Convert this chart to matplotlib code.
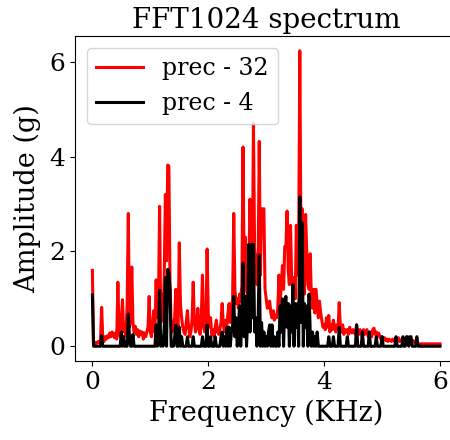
import numpy as np
import matplotlib
matplotlib.use("Agg")
import matplotlib.pyplot as plt

# frequency bins (KHz), step 0.02
freq_step = 0.02
n_bins = 301

amp_prec32 = [
    1.60, 0.05, 0.05, 0.08, 0.06, 0.10, 0.08, 0.12, 0.82, 0.15,
    0.10, 0.20, 0.15, 0.22, 0.18, 0.28, 0.20, 0.30, 0.25, 0.18,
    0.28, 0.15, 1.35, 0.35, 0.20, 0.55, 0.98, 0.30, 0.45, 0.22,
    0.90, 2.80, 0.40, 0.55, 1.67, 0.50, 0.30, 0.42, 0.25, 0.35,
    0.20, 0.32, 0.25, 0.30, 0.15, 0.28, 0.20, 0.30, 0.40, 1.05,
    0.30, 0.20, 0.45, 0.75, 0.30, 1.40, 0.60, 0.80, 2.95, 0.50,
    1.10, 0.55, 1.50, 3.20, 1.80, 3.82, 3.80, 1.35, 0.40, 0.30,
    0.45, 0.60, 1.20, 0.50, 0.40, 2.18, 0.90, 0.60, 0.40, 0.30,
    0.25, 0.50, 0.75, 0.40, 0.20, 0.30, 0.55, 1.35, 0.50, 0.30,
    0.45, 0.80, 0.35, 0.25, 0.60, 1.50, 0.40, 0.30, 0.50, 2.05,
    0.70, 0.40, 0.60, 0.25, 0.35, 0.20, 0.40, 0.55, 0.30, 0.25,
    0.35, 0.50, 0.90, 0.45, 0.30, 0.55, 0.40, 0.70, 0.90, 0.50,
    0.80, 1.00, 2.80, 1.20, 0.90, 1.00, 0.80, 1.10, 0.95, 1.30,
    4.20, 1.50, 2.30, 1.20, 1.00, 1.60, 3.10, 2.00, 1.40, 4.70,
    2.00, 1.90, 1.30, 1.60, 4.32, 1.50, 2.90, 2.88, 2.90, 1.20,
    1.00, 0.80, 0.90, 0.95, 0.70, 0.60, 0.75, 0.55, 0.65, 0.60,
    0.80, 1.50, 0.90, 1.30, 1.70, 1.20, 2.10, 2.10, 2.85, 1.60,
    1.30, 2.55, 1.40, 1.20, 1.45, 1.00, 2.55, 1.50, 2.00, 6.23,
    2.10, 2.90, 1.40, 1.10, 2.78, 2.00, 1.30, 1.20, 1.95, 1.00,
    0.80, 1.20, 0.70, 1.20, 0.90, 0.60, 0.95, 0.70, 0.55, 0.40,
    0.45, 0.35, 0.60, 0.40, 0.65, 0.30, 0.45, 0.35, 0.55, 0.40,
    0.30, 0.45, 0.35, 0.92, 0.40, 0.30, 0.45, 0.25, 0.35, 0.30,
    0.35, 0.25, 0.40, 0.30, 0.28, 0.35, 0.30, 0.25, 0.45, 0.30,
    0.25, 0.35, 0.28, 0.20, 0.35, 0.25, 0.30, 0.35, 0.20, 0.28,
    0.30, 0.20, 0.35, 0.38, 0.25, 0.30, 0.20, 0.28, 0.22, 0.15,
    0.20, 0.15, 0.18, 0.12, 0.15, 0.10, 0.15, 0.12, 0.10, 0.15,
    0.12, 0.10, 0.15, 0.12, 0.18, 0.10, 0.12, 0.15, 0.10, 0.12,
    0.10, 0.15, 0.12, 0.10, 0.12, 0.08, 0.10, 0.12, 0.08, 0.10,
    0.05, 0.05, 0.05, 0.05, 0.05, 0.05, 0.05, 0.05, 0.05, 0.05,
    0.05, 0.05, 0.05, 0.05, 0.05, 0.05, 0.05, 0.05, 0.05, 0.05,
    0.05,
]

amp_prec4 = [
    1.08, 0, 0, 0, 0, 0, 0, 0, 0.22, 0,
    0, 0, 0, 0, 0, 0, 0, 0, 0, 0,
    0, 0, 0, 0, 0, 0.30, 0, 0.20, 0, 0,
    0, 0.68, 0.20, 0, 0, 0.25, 0, 0, 0, 0,
    0, 0, 0, 0, 0, 0, 0, 0, 0, 0,
    0, 0, 0, 0, 0, 0.45, 0, 0.20, 1.18, 0,
    0.20, 0, 0.40, 1.45, 0, 1.62, 1.55, 1.20, 0, 0,
    0, 0.20, 0.45, 0, 0, 0.40, 0, 0.20, 0, 0,
    0, 0, 0.20, 0, 0, 0, 0, 0.20, 0, 0,
    0, 0, 0, 0, 0, 0.20, 0, 0, 0, 0.45,
    0, 0, 0.20, 0, 0, 0, 0.20, 0, 0, 0,
    0, 0.20, 0.30, 0, 0.20, 0, 0.40, 0, 0.40, 0,
    0.30, 0.40, 1.05, 0.20, 0.60, 0, 0.40, 0.85, 0, 0.60,
    1.75, 0.20, 1.05, 0, 0.50, 2.15, 0.30, 2.15, 0.60, 2.15,
    0.30, 0.60, 0, 0.50, 1.92, 0, 0.50, 0, 0.30, 0,
    0.20, 0, 0.30, 0.45, 0, 0.45, 0, 0.20, 0, 0,
    0.30, 0, 0.85, 0.30, 1.00, 0, 0.85, 1.05, 0.40, 0.90,
    0, 0.85, 0.30, 1.30, 0, 0.90, 0.40, 0.90, 0, 3.15,
    0.50, 2.60, 0, 0.90, 0.40, 0.85, 0, 1.10, 0.30, 0,
    0.30, 0, 0.20, 0, 0.30, 0, 0, 0, 0, 0,
    0, 0, 0, 0, 0.20, 0, 0, 0, 0.20, 0,
    0, 0, 0, 0.40, 0, 0, 0, 0, 0, 0,
    0.20, 0, 0, 0, 0, 0, 0, 0, 0.45, 0,
    0, 0, 0, 0.30, 0, 0, 0, 0, 0, 0.30,
    0, 0, 0, 0, 0, 0.20, 0, 0, 0, 0,
    0.20, 0, 0, 0, 0, 0, 0, 0, 0, 0,
    0, 0, 0.20, 0, 0, 0, 0, 0, 0.20, 0,
    0, 0.20, 0.20, 0, 0.20, 0.20, 0, 0, 0, 0,
    0.20, 0, 0, 0, 0, 0, 0, 0, 0, 0,
    0, 0, 0, 0, 0, 0, 0, 0, 0, 0,
    0,
]

freq = np.arange(n_bins) * freq_step

plt.rcParams['font.family'] = ['DejaVu Serif']
fig = plt.figure(figsize=(4.5, 4.4), dpi=100)
ax = fig.add_axes([75 / 450, 79 / 440, (457.4 - 75) / 450, 325 / 440])

ax.plot(freq, amp_prec32, color='red', lw=2.2, label='prec - 32')
ax.plot(freq, amp_prec4, color='black', lw=2.2, label='prec - 4')

ax.set_xlim(-0.3, 6.3)
ax.spines['right'].set_visible(False)
ax.set_xticks([0, 2, 4, 6])
ax.set_yticks([0, 2, 4, 6])
ax.tick_params(labelsize=18)
ax.set_xlabel('Frequency (KHz)', fontsize=19.5)
ax.set_ylabel('Amplitude (g)', fontsize=19.5, labelpad=6)
ax.set_title('FFT1024 spectrum', fontsize=20)
ax.legend(loc='upper left', fontsize=17)

fig.savefig('out.png', dpi=100)
